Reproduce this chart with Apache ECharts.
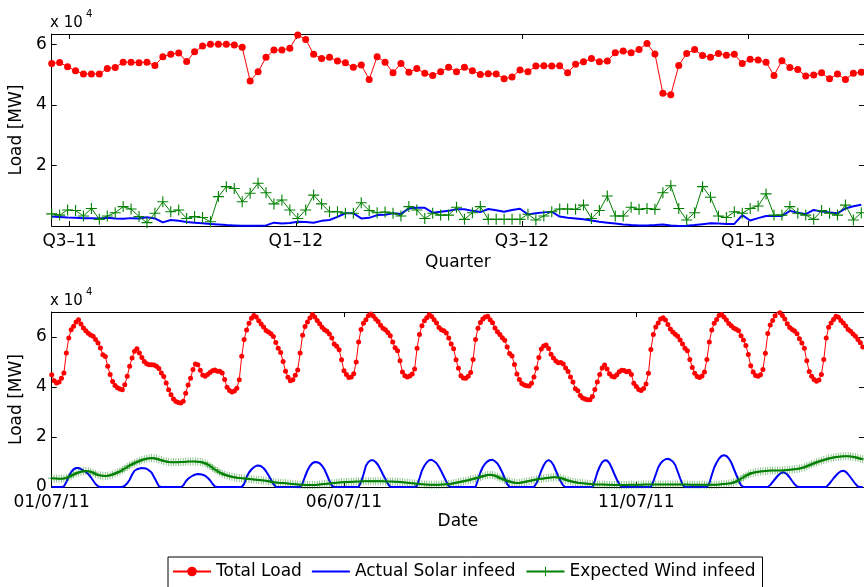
<!DOCTYPE html>
<html>
<head>
<meta charset="utf-8">
<script src="https://cdn.jsdelivr.net/npm/echarts@6/dist/echarts.min.js"></script>
<style>
  html, body { margin: 0; padding: 0; background: #fff; }
  #chart { width: 864px; height: 587px; }
</style>
</head>
<body>
<div id="chart"></div>
<script>
// ---- Weekly overview (values in 10^4 MW), one sample per step ----
const weeklyLoad = [
  5.37, 5.40, 5.26, 5.13, 5.02, 5.02, 5.02, 5.20, 5.23, 5.41,
  5.41, 5.39, 5.41, 5.30, 5.59, 5.67, 5.71, 5.43, 5.75, 5.94,
  6.00, 6.00, 6.00, 5.98, 5.90, 4.79, 5.09, 5.57, 5.81, 5.81,
  5.87, 6.31, 6.16, 5.67, 5.53, 5.57, 5.45, 5.39, 5.24, 5.32,
  4.84, 5.59, 5.41, 5.06, 5.37, 5.08, 5.20, 5.04, 4.97, 5.09,
  5.24, 5.09, 5.24, 5.13, 5.00, 5.03, 5.02, 4.86, 4.92, 5.15,
  5.09, 5.28, 5.29, 5.28, 5.29, 5.06, 5.34, 5.42, 5.53, 5.42,
  5.45, 5.72, 5.78, 5.72, 5.83, 6.03, 5.68, 4.38, 4.33, 5.30,
  5.70, 5.83, 5.63, 5.57, 5.70, 5.64, 5.67, 5.37, 5.51, 5.48,
  5.41, 4.97, 5.46, 5.23, 5.17, 4.95, 4.99, 5.06, 4.86, 5.02,
  4.84, 5.04, 5.08
];
const weeklySolar = [
  0.31, 0.30, 0.28, 0.27, 0.26, 0.26, 0.25, 0.27, 0.25, 0.24,
  0.26, 0.25, 0.29, 0.25, 0.12, 0.20, 0.17, 0.13, 0.11, 0.09,
  0.07, 0.05, 0.03, 0.02, 0.01, 0.01, 0.01, 0.02, 0.11, 0.08,
  0.10, 0.14, 0.13, 0.11, 0.17, 0.20, 0.30, 0.42, 0.42, 0.25,
  0.27, 0.36, 0.37, 0.42, 0.40, 0.58, 0.60, 0.60, 0.44, 0.47,
  0.50, 0.55, 0.55, 0.50, 0.46, 0.56, 0.52, 0.47, 0.53, 0.57,
  0.38, 0.42, 0.45, 0.47, 0.31, 0.27, 0.25, 0.22, 0.18, 0.14,
  0.11, 0.08, 0.05, 0.03, 0.02, 0.02, 0.03, 0.05, 0.02, 0.00,
  0.01, 0.03, 0.06, 0.09, 0.08, 0.07, 0.07, 0.36, 0.18, 0.26,
  0.33, 0.33, 0.33, 0.50, 0.44, 0.39, 0.53, 0.48, 0.45, 0.42,
  0.58, 0.65, 0.70
];
const weeklyWind = [
  0.40, 0.36, 0.53, 0.51, 0.33, 0.58, 0.22, 0.33, 0.44, 0.64,
  0.56, 0.31, 0.11, 0.42, 0.80, 0.47, 0.53, 0.25, 0.31, 0.28,
  0.14, 0.97, 1.30, 1.24, 0.80, 1.08, 1.41, 1.10, 0.73, 0.86,
  0.53, 0.25, 0.53, 1.02, 0.73, 0.47, 0.47, 0.42, 0.42, 0.77,
  0.51, 0.44, 0.46, 0.42, 0.33, 0.64, 0.53, 0.25, 0.42, 0.36,
  0.36, 0.62, 0.22, 0.44, 0.64, 0.22, 0.22, 0.22, 0.22, 0.22,
  0.39, 0.20, 0.33, 0.47, 0.56, 0.56, 0.55, 0.69, 0.25, 0.51,
  0.99, 0.33, 0.33, 0.62, 0.55, 0.58, 0.55, 1.10, 1.33, 0.58,
  0.20, 0.44, 1.30, 0.95, 0.33, 0.28, 0.47, 0.42, 0.58, 0.66,
  1.06, 0.36, 0.36, 0.64, 0.42, 0.36, 0.22, 0.51, 0.42, 0.36,
  0.69, 0.20, 0.44
];
const quarterTicks = [2.25, 30.75, 59.25, 87.75];
const quarterLabels = ['Q3\u201311', 'Q1\u201312', 'Q3\u201312', 'Q1\u201313'];

// ---- Hourly detail, 1 July 2011 onward (values in 10^4 MW), one row per day ----
const hourlyLoad = [
  4.49,4.25,4.16,4.20,4.35,4.56,5.36,5.96,6.29,6.43,6.60,6.69,6.52,6.36,6.25,6.15,6.08,6.03,5.90,5.76,5.56,5.29,5.22,4.83,
  4.50,4.22,4.06,3.97,3.92,3.89,4.09,4.43,4.83,5.16,5.43,5.53,5.36,5.18,5.02,4.93,4.89,4.89,4.88,4.83,4.74,4.56,4.42,4.16,
  3.89,3.69,3.52,3.42,3.38,3.36,3.43,3.75,4.08,4.35,4.70,4.92,4.89,4.67,4.48,4.43,4.50,4.58,4.65,4.68,4.63,4.63,4.56,4.30,
  3.99,3.86,3.80,3.84,3.95,4.29,5.23,5.90,6.28,6.55,6.75,6.86,6.80,6.65,6.52,6.40,6.26,6.20,6.13,6.02,5.78,5.55,5.38,5.02,
  4.63,4.39,4.25,4.29,4.47,4.68,5.36,6.07,6.42,6.60,6.76,6.90,6.80,6.66,6.53,6.39,6.29,6.23,6.12,5.96,5.72,5.63,5.49,5.09,
  4.65,4.50,4.38,4.40,4.53,5.00,5.80,6.30,6.55,6.69,6.85,6.92,6.84,6.72,6.62,6.47,6.35,6.29,6.18,6.05,5.80,5.57,5.45,5.05,
  4.60,4.45,4.40,4.44,4.52,4.72,5.55,6.10,6.45,6.65,6.77,6.89,6.82,6.69,6.56,6.38,6.29,6.25,6.16,5.96,5.72,5.53,5.09,4.75,
  4.45,4.36,4.35,4.43,4.58,5.10,5.90,6.35,6.58,6.72,6.80,6.83,6.69,6.57,6.36,6.21,6.10,5.97,5.87,5.60,5.34,5.24,4.90,4.52,
  4.30,4.14,4.08,4.05,4.04,4.15,4.40,4.75,5.18,5.52,5.64,5.68,5.54,5.31,5.16,5.04,4.97,4.98,4.92,4.76,4.62,4.40,4.20,3.93,
  3.85,3.66,3.56,3.52,3.49,3.49,3.62,3.90,4.20,4.50,4.76,4.88,4.72,4.53,4.43,4.40,4.49,4.61,4.67,4.66,4.61,4.63,4.50,4.15,
  4.02,3.90,3.86,3.94,4.12,4.55,5.50,6.10,6.40,6.56,6.72,6.77,6.68,6.50,6.32,6.20,6.11,6.03,5.88,5.72,5.55,5.45,5.10,4.78,
  4.55,4.42,4.38,4.44,4.60,5.10,5.80,6.28,6.55,6.70,6.86,6.90,6.80,6.68,6.54,6.45,6.36,6.31,6.25,6.05,5.88,5.66,5.30,4.85,
  4.60,4.46,4.43,4.49,4.70,5.35,6.14,6.48,6.66,6.85,7.02,6.97,6.86,6.72,6.53,6.38,6.30,6.24,6.13,5.93,5.76,5.55,5.05,4.62,
  4.43,4.30,4.23,4.28,4.50,5.10,5.96,6.39,6.56,6.70,6.83,6.79,6.66,6.56,6.44,6.30,6.23,6.12,6.03,5.90,5.77,5.60
];
const hourlySolar = [
  0,0,0,0,0,0.02,0.20,0.42,0.60,0.71,0.76,0.76,0.72,0.66,0.60,0.52,0.40,0.26,0.12,0.03,0,0,0,0,
  0,0,0,0,0,0,0.05,0.15,0.29,0.50,0.65,0.71,0.74,0.76,0.75,0.73,0.66,0.58,0.40,0.22,0.03,0,0,0,
  0,0,0,0,0,0,0.06,0.22,0.33,0.40,0.46,0.50,0.52,0.51,0.49,0.45,0.37,0.27,0.13,0.02,0,0,0,0,
  0,0,0,0,0,0,0,0.12,0.40,0.58,0.70,0.79,0.85,0.86,0.83,0.75,0.63,0.47,0.30,0.12,0.01,0,0,0,
  0,0,0,0,0,0,0,0.15,0.42,0.66,0.84,0.95,1.00,0.99,0.95,0.85,0.70,0.48,0.25,0.05,0,0,0,0,
  0,0,0,0,0,0,0,0.20,0.50,0.85,1.00,1.07,1.07,1.00,0.88,0.70,0.50,0.32,0.13,0.01,0,0,0,0,
  0,0,0,0,0,0,0.05,0.35,0.66,0.85,0.99,1.07,1.09,1.03,0.95,0.80,0.62,0.42,0.22,0.03,0,0,0,0,
  0,0,0,0,0,0,0,0.28,0.58,0.80,0.94,1.03,1.08,1.09,1.03,0.94,0.78,0.58,0.35,0.12,0,0,0,0,
  0,0,0,0,0,0,0,0.15,0.38,0.65,0.87,1.02,1.08,1.02,0.88,0.65,0.42,0.22,0.06,0,0,0,0,0,
  0,0,0,0,0,0,0,0.25,0.58,0.82,0.99,1.07,1.06,0.95,0.75,0.52,0.30,0.12,0.01,0,0,0,0,0,
  0,0,0,0,0,0,0,0.22,0.50,0.78,0.95,1.05,1.11,1.13,1.09,1.02,0.88,0.62,0.35,0.10,0,0,0,0,
  0,0,0,0,0,0,0.15,0.48,0.78,0.98,1.14,1.24,1.27,1.24,1.14,0.98,0.74,0.50,0.27,0.07,0,0,0,0,
  0,0,0,0,0,0,0,0.08,0.20,0.32,0.44,0.53,0.59,0.57,0.50,0.38,0.24,0.11,0.02,0,0,0,0,0,
  0,0,0,0,0,0,0,0.10,0.22,0.35,0.46,0.56,0.63,0.65,0.61,0.51,0.38,0.25,0.12,0.02,0,0
];
const hourlyWind = [
  0.35,0.34,0.34,0.33,0.33,0.34,0.36,0.40,0.45,0.50,0.55,0.58,0.61,0.63,0.64,0.63,0.61,0.57,0.52,0.48,0.46,0.45,0.44,0.45,
  0.47,0.50,0.54,0.58,0.62,0.68,0.74,0.80,0.86,0.91,0.96,1.00,1.04,1.08,1.11,1.13,1.15,1.16,1.15,1.13,1.10,1.07,1.04,1.02,
  1.00,0.99,0.99,0.99,0.99,1.00,1.00,1.01,1.02,1.02,1.02,1.02,1.01,1.00,0.98,0.95,0.90,0.84,0.77,0.70,0.64,0.58,0.53,0.49,
  0.46,0.43,0.41,0.39,0.37,0.36,0.35,0.34,0.33,0.32,0.31,0.30,0.29,0.28,0.27,0.26,0.25,0.23,0.21,0.19,0.18,0.17,0.16,0.16,
  0.15,0.14,0.13,0.12,0.11,0.10,0.09,0.09,0.08,0.08,0.08,0.08,0.08,0.09,0.10,0.11,0.12,0.13,0.14,0.15,0.16,0.17,0.18,0.19,
  0.19,0.20,0.20,0.21,0.21,0.22,0.22,0.22,0.23,0.23,0.23,0.23,0.23,0.23,0.23,0.23,0.23,0.22,0.22,0.22,0.22,0.21,0.21,0.20,
  0.19,0.18,0.17,0.16,0.15,0.14,0.13,0.12,0.11,0.10,0.10,0.09,0.09,0.09,0.09,0.09,0.10,0.10,0.11,0.12,0.13,0.15,0.17,0.19,
  0.21,0.23,0.25,0.27,0.30,0.32,0.35,0.37,0.40,0.43,0.46,0.48,0.49,0.48,0.45,0.41,0.36,0.32,0.28,0.25,0.22,0.19,0.17,0.16,
  0.16,0.18,0.20,0.22,0.24,0.26,0.28,0.30,0.32,0.33,0.34,0.36,0.37,0.38,0.39,0.39,0.38,0.36,0.33,0.29,0.26,0.23,0.21,0.19,
  0.17,0.16,0.15,0.14,0.13,0.12,0.11,0.10,0.10,0.10,0.10,0.10,0.09,0.09,0.09,0.08,0.08,0.08,0.08,0.08,0.08,0.09,0.09,0.09,
  0.09,0.09,0.09,0.10,0.10,0.10,0.10,0.10,0.10,0.10,0.10,0.10,0.10,0.10,0.10,0.10,0.10,0.10,0.10,0.10,0.10,0.10,0.09,0.09,
  0.09,0.09,0.09,0.09,0.09,0.09,0.09,0.09,0.09,0.09,0.10,0.11,0.12,0.13,0.14,0.15,0.18,0.22,0.27,0.33,0.39,0.45,0.50,0.55,
  0.57,0.59,0.61,0.62,0.63,0.64,0.65,0.66,0.66,0.66,0.66,0.66,0.66,0.67,0.68,0.69,0.70,0.71,0.72,0.74,0.76,0.79,0.83,0.87,
  0.91,0.95,0.99,1.02,1.05,1.08,1.11,1.14,1.16,1.18,1.20,1.21,1.22,1.23,1.23,1.23,1.22,1.21,1.19,1.16,1.13,1.11
];
const dateTicks = [0, 120, 240];                 // hours after 01/07/11 00:00
const dateLabels = ['01/07/11', '06/07/11', '11/07/11'];
const weeklyLoadTicks = [2, 4, 6];
const hourlyLoadTicks = [0, 2, 4, 6];

const seriesNames = ['Total Load', 'Actual Solar infeed', 'Expected Wind infeed'];

const FONT = 'DejaVu Sans';
const FS = 17;
const PLUS = 'path://M4.5,0H5.5V4.5H10V5.5H5.5V10H4.5V5.5H0V4.5H4.5Z';
const LEGEND_LINE = 'path://M0,0H38V2H0Z';

function labelFor(ticks, labels) {
  return function (v) {
    let best = 0;
    for (let i = 1; i < ticks.length; i++) {
      if (Math.abs(ticks[i] - v) < Math.abs(ticks[best] - v)) best = i;
    }
    return labels[best];
  };
}

function boxAxes(gridIndex, xMax, xTicks, xLabels, xName, yMax, yTicks) {
  const line = { show: true, onZero: false, lineStyle: { color: '#000', width: 1 } };
  const tick = (vals) => ({ show: true, inside: true, length: 5, customValues: vals, lineStyle: { color: '#000', width: 1 } });
  const xs = [
    {
      type: 'value', gridIndex, min: 0, max: xMax, position: 'bottom',
      axisLine: line, axisTick: tick(xTicks), splitLine: { show: false },
      axisLabel: { customValues: xTicks, formatter: labelFor(xTicks, xLabels), color: '#000', fontFamily: FONT, fontSize: FS, margin: 7 },
      name: xName, nameLocation: 'middle', nameGap: 28,
      nameTextStyle: { color: '#000', fontFamily: FONT, fontSize: FS }
    },
    {
      type: 'value', gridIndex, min: 0, max: xMax, position: 'top',
      axisLine: line, axisTick: tick(xTicks), splitLine: { show: false },
      axisLabel: { show: false }
    }
  ];
  const ys = [
    {
      type: 'value', gridIndex, min: 0, max: yMax, position: 'left',
      axisLine: line, axisTick: tick(yTicks), splitLine: { show: false },
      axisLabel: { customValues: yTicks, formatter: (v) => String(Math.round(v)), color: '#000', fontFamily: FONT, fontSize: FS, margin: 5 },
      name: 'Load [MW]', nameLocation: 'middle', nameGap: 18, nameRotate: 90,
      nameTextStyle: { color: '#000', fontFamily: FONT, fontSize: FS }
    },
    {
      type: 'value', gridIndex, min: 0, max: yMax, position: 'right',
      axisLine: line, axisTick: tick(yTicks), splitLine: { show: false },
      axisLabel: { show: false }
    }
  ];
  return { xs, ys };
}

const upperAxes = boxAxes(0, 102.34, quarterTicks, quarterLabels, 'Quarter', 6.34, weeklyLoadTicks);
const lowerAxes = boxAxes(1, 333.5, dateTicks, dateLabels, 'Date', 7, hourlyLoadTicks);
lowerAxes.xs[0].nameGap = 26;

const toPairs = (arr) => arr.map((v, i) => [i, v]);

const chart = echarts.init(document.getElementById('chart'), null, { renderer: 'canvas' });
chart.setOption({
  animation: false,
  backgroundColor: '#fff',
  grid: [
    { left: 49, top: 34, width: 817, height: 192 },
    { left: 49, top: 312, width: 817, height: 175 }
  ],
  xAxis: [...upperAxes.xs, ...lowerAxes.xs],
  yAxis: [...upperAxes.ys, ...lowerAxes.ys],
  legend: {
    data: [
      { name: seriesNames[0] },
      { name: seriesNames[1], icon: LEGEND_LINE },
      { name: seriesNames[2] }
    ],
    left: 168, top: 557,
    padding: [6, 7, 8, 4],
    itemGap: 10,
    itemWidth: 38, itemHeight: 12,
    borderColor: '#000', borderWidth: 1, borderRadius: 0,
    backgroundColor: '#fff',
    textStyle: { color: '#000', fontFamily: FONT, fontSize: FS }
  },
  graphic: [
    { type: 'text', left: 50, top: 16, style: { text: 'x 10', font: '15px "DejaVu Sans"', fill: '#000' } },
    { type: 'text', left: 86, top: 9, style: { text: '4', font: '10px "DejaVu Sans"', fill: '#000' } },
    { type: 'text', left: 50, top: 294, style: { text: 'x 10', font: '15px "DejaVu Sans"', fill: '#000' } },
    { type: 'text', left: 86, top: 287, style: { text: '4', font: '10px "DejaVu Sans"', fill: '#000' } }
  ],
  series: [
    {
      name: seriesNames[0], type: 'line', xAxisIndex: 0, yAxisIndex: 0,
      data: toPairs(weeklyLoad), symbol: 'circle', symbolSize: 7,
      itemStyle: { color: '#ff0000' }, lineStyle: { color: '#ff0000', width: 1 }
    },
    {
      name: seriesNames[1], type: 'line', xAxisIndex: 0, yAxisIndex: 0,
      data: toPairs(weeklySolar), showSymbol: false, symbol: 'none',
      itemStyle: { color: '#0000ff' }, lineStyle: { color: '#0000ff', width: 2 }
    },
    {
      name: seriesNames[2], type: 'line', xAxisIndex: 0, yAxisIndex: 0,
      data: toPairs(weeklyWind), symbol: PLUS, symbolSize: 11,
      itemStyle: { color: '#008000' }, lineStyle: { color: '#008000', width: 1 }
    },
    {
      name: seriesNames[0], type: 'line', xAxisIndex: 2, yAxisIndex: 2,
      data: toPairs(hourlyLoad), symbol: 'circle', symbolSize: 5,
      itemStyle: { color: '#ff0000' }, lineStyle: { color: '#ff0000', width: 1 }
    },
    {
      name: seriesNames[1], type: 'line', xAxisIndex: 2, yAxisIndex: 2,
      data: toPairs(hourlySolar), showSymbol: false, symbol: 'none',
      itemStyle: { color: '#0000ff' }, lineStyle: { color: '#0000ff', width: 2 }
    },
    {
      name: seriesNames[2], type: 'line', xAxisIndex: 2, yAxisIndex: 2,
      data: toPairs(hourlyWind), symbol: PLUS, symbolSize: 8,
      itemStyle: { color: 'rgba(0,128,0,0.55)' }, lineStyle: { color: '#008000', width: 2 }
    }
  ]
});
</script>
</body>
</html>
